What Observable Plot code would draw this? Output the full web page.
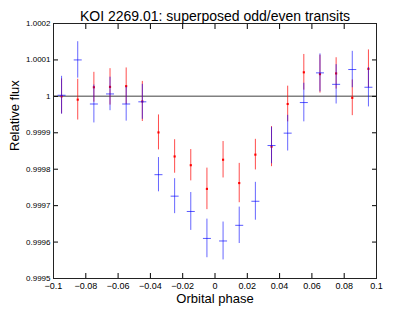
<!DOCTYPE html>
<html><head><meta charset="utf-8">
<script src="https://cdn.jsdelivr.net/npm/d3@7"></script>
<script src="https://cdn.jsdelivr.net/npm/@observablehq/plot@0.6"></script>
<style>body{margin:0;background:#fff} svg{display:block}</style>
</head><body><div id="chart"></div>
<script>
const title = "KOI 2269.01: superposed odd/even transits";
const xLabel = "Orbital phase";
const yLabel = "Relative flux";
const phase = [-0.095,-0.085,-0.075,-0.065,-0.055,-0.045,-0.035,-0.025,-0.015,-0.005,0.005,0.015,0.025,0.035,0.045,0.055,0.065,0.075,0.085,0.095];
const oddFlux = [1.0000,0.999991,1.000025,1.000026,1.000028,0.999986,0.999901,0.999835,0.999811,0.999746,0.999826,0.999762,0.99984,0.999862,0.999979,1.000066,1.000061,1.000063,0.999996,1.0000755];
const oddErr = [0.000048,0.000056,0.000041,0.00005,0.00005,0.000055,0.000048,0.000046,0.000043,0.000057,0.00005,0.000054,0.000042,0.000055,0.000049,0.000049,0.000052,0.000043,0.000049,0.000052];
const evenFlux = [1.000003,1.0001,0.999979,1.0000066,0.999979,0.999985,0.999785,0.999726,0.999684,0.99961,0.999603,0.999646,0.999712,0.999865,0.999899,0.999983,1.0000645,1.000033,1.0000736,1.000025];
const evenErr = [0.000052,0.00005,0.000052,0.000046,0.000047,0.000048,0.000047,0.000048,0.000052,0.000053,0.000052,0.00005,0.000052,0.00005,0.000049,0.000053,0.000052,0.000054,0.00005,0.000054];
const xTicks = [-0.1,-0.08,-0.06,-0.04,-0.02,0,0.02,0.04,0.06,0.08,0.1];
const yTicks = [0.9995,0.9996,0.9997,0.9998,0.9999,1,1.0001,1.0002];
const baseline = [1];

const odd = phase.map((x, i) => ({x, y: oddFlux[i], e: oddErr[i]}));
const even = phase.map((x, i) => ({x, y: evenFlux[i], e: evenErr[i]}));
const fx = d => String(+d.toFixed(2)).replace("-", "\u2212");
const fy = d => String(+d.toFixed(4));
const hline = {draw(ctx, size) { const r = Math.sqrt(size / Math.PI); ctx.moveTo(-r, 0); ctx.lineTo(r, 0); }};

const plot = Plot.plot({
  width: 415, height: 313,
  marginLeft: 53, marginRight: 39, marginTop: 23, marginBottom: 35,
  style: {fontFamily: "'Liberation Sans', Arial, sans-serif", fontSize: "9px", color: "#000", background: "#fff"},
  x: {domain: [-0.1, 0.1]},
  y: {domain: [0.9995, 1.0002]},
  marks: [
    Plot.ruleY(baseline, {y: d => d, stroke: "#808080", strokeWidth: 1.5}),
    Plot.ruleX(odd, {x: "x", y1: d => d.y - d.e, y2: d => d.y + d.e, stroke: "#ff0000", strokeOpacity: 0.7}),
    Plot.dot(odd, {x: "x", y: "y", symbol: "square", r: 1.2, fill: "#ff0000", stroke: "none"}),
    Plot.ruleX(even, {x: "x", y1: d => d.y - d.e, y2: d => d.y + d.e, stroke: "#0000ff", strokeOpacity: 0.6}),
    Plot.dot(even, {x: "x", y: "y", symbol: hline, r: 4, fill: "none", stroke: "#0000ff", strokeOpacity: 0.65, strokeWidth: 1}),
    Plot.axisX({ticks: xTicks, tickFormat: fx, tickSize: -5, tickPadding: 9, label: null, fontSize: 9}),
    Plot.axisX({anchor: "top", ticks: xTicks, tickFormat: () => "", tickSize: -5, label: null}),
    Plot.axisY({ticks: yTicks, tickFormat: fy, tickSize: -5, tickPadding: 8, label: null, fontSize: 8}),
    Plot.axisY({anchor: "right", ticks: yTicks, tickFormat: () => "", tickSize: -5, label: null}),
    Plot.frame({stroke: "#222"}),
    Plot.text([title], {frameAnchor: "top", dy: -12, fontSize: 14, text: d => d}),
    Plot.text([xLabel], {frameAnchor: "bottom", dy: 24, fontSize: 13, text: d => d}),
    Plot.text([yLabel], {frameAnchor: "left", dx: -39, rotate: -90, fontSize: 13, text: d => d})
  ]
});
document.getElementById("chart").append(plot);
</script>
</body></html>
